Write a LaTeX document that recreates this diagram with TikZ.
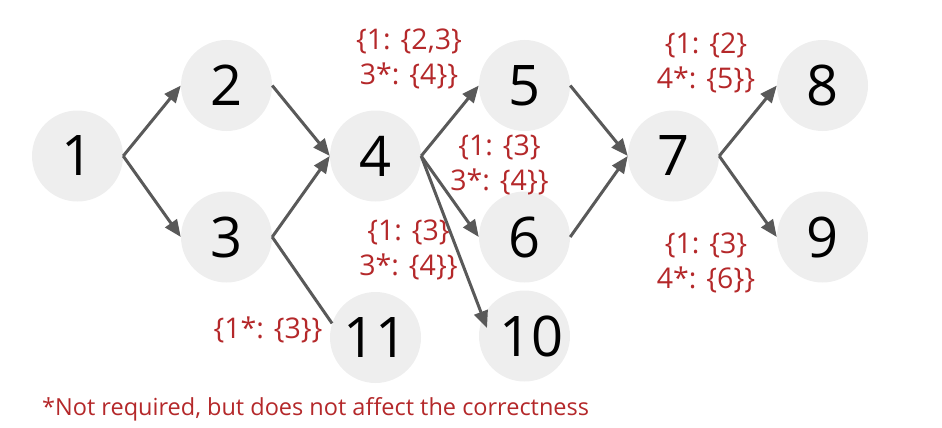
\documentclass[tikz,border=0pt]{standalone}
\usepackage{fontspec}
\setmainfont{Open Sans}
\usetikzlibrary{arrows.meta}
\definecolor{nodegray}{HTML}{EEEEEE}
\definecolor{edgegray}{HTML}{595959}
\definecolor{labred}{HTML}{B4282A}
\begin{document}
\begin{tikzpicture}[x=1pt,y=-1pt,
  vert/.style={circle,fill=nodegray,minimum size=91pt,inner sep=0pt,font=\fontsize{56}{60}\selectfont},
  edge/.style={draw=edgegray,line width=3pt,-{Triangle[length=17pt,width=14pt]}},
  plainedge/.style={draw=edgegray,line width=3pt},
  lab/.style={text=labred,align=center,font=\fontsize{28.5}{35}\selectfont,inner sep=0pt}]
\useasboundingbox (0,0) rectangle (942,428);
\node[vert] (n1) at (77.5,156) {1};
\node[vert] (n2) at (226.5,85.5) {2};
\node[vert] (n3) at (226.5,237) {3};
\node[vert] (n4) at (375.5,156) {4};
\node[vert] (n11) at (375.5,337.5) {11};
\node[vert] (n5) at (524.5,85.5) {5};
\node[vert] (n6) at (524.5,237) {6};
\node[vert] (n10) at (524.5,336) {\hspace*{14pt}10};
\node[vert] (n7) at (673.5,156) {7};
\node[vert] (n8) at (822.5,85.5) {8};
\node[vert] (n9) at (822.5,237) {9};
\coordinate (t10) at (487,328);
\draw[edge] (n1.east) -- (n2.west);
\draw[edge] (n1.east) -- (n3.west);
\draw[edge] (n2.east) -- (n4.west);
\draw[edge] (n3.east) -- (n4.west);
\draw[plainedge] (n3.east) -- (n11.162);
\draw[edge] (n4.east) -- (n5.west);
\draw[edge] (n4.east) -- (n6.west);
\draw[edge] (n4.east) -- (t10);
\draw[edge] (n5.east) -- (n7.west);
\draw[edge] (n6.east) -- (n7.west);
\draw[edge] (n7.east) -- (n8.west);
\draw[edge] (n7.east) -- (n9.west);
\node[lab] (l4t) at (409,59) {\{1: \{2,3\}\\3*: \{4\}\}};
\node[lab] (l56) at (499.5,165) {\{1: \{3\}\\3*: \{4\}\}};
\node[lab] (l4b) at (408.5,249.5) {\{1: \{3\}\\3*: \{4\}\}};
\node[lab] (l11) at (268,330) {\{1*: \{3\}\}};
\node[lab] (l7t) at (706,62.5) {\{1: \{2\}\\4*: \{5\}\}};
\node[lab] (l7b) at (706,262.5) {\{1: \{3\}\\4*: \{6\}\}};
\node[lab,anchor=base west,font=\fontsize{23.5}{28}\selectfont] (note) at (42,415) {*Not required, but does not affect the correctness};
\end{tikzpicture}
\end{document}
